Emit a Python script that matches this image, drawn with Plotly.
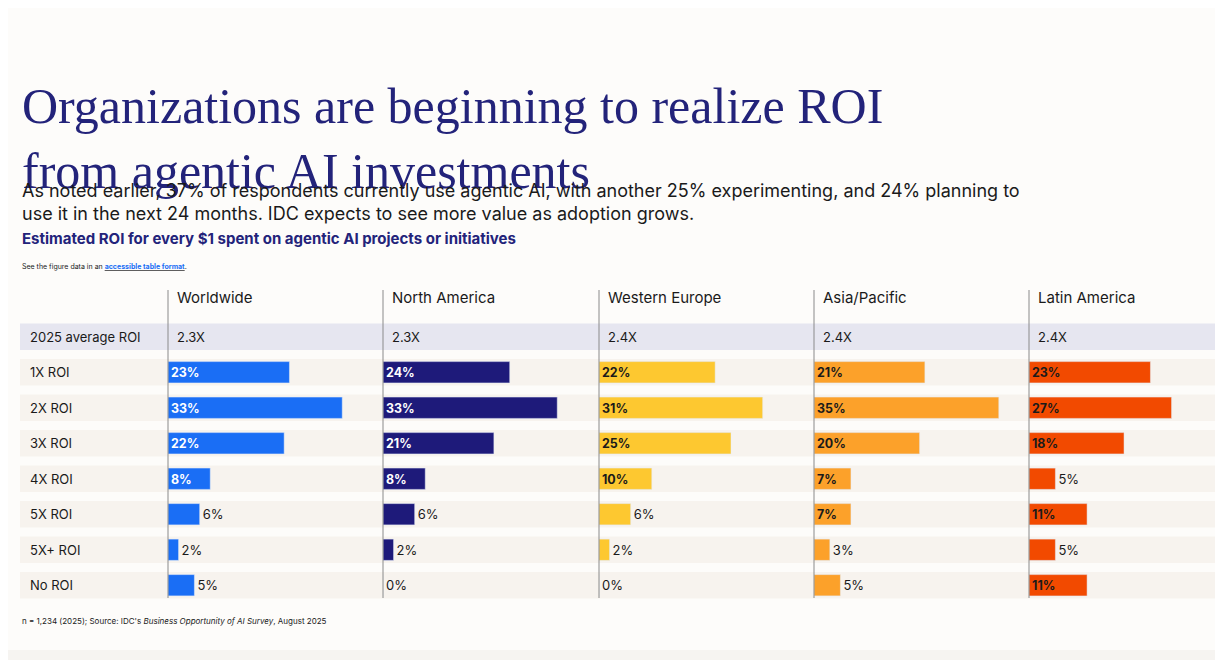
import plotly.graph_objects as go

regions = ["Worldwide", "North America", "Western Europe", "Asia/Pacific", "Latin America"]
avg_roi = ["2.3X", "2.3X", "2.4X", "2.4X", "2.4X"]
rows = ["1X ROI", "2X ROI", "3X ROI", "4X ROI", "5X ROI", "5X+ ROI", "No ROI"]
worldwide = [23, 33, 22, 8, 6, 2, 5]
north_america = [24, 33, 21, 8, 6, 2, 0]
western_europe = [22, 31, 25, 10, 6, 2, 0]
asia_pacific = [21, 35, 20, 7, 7, 3, 5]
latin_america = [23, 27, 18, 5, 11, 5, 11]
series = [worldwide, north_america, western_europe, asia_pacific, latin_america]

colors = ["#1a6ef5", "#1e1a7a", "#fdc830", "#fca12a", "#f24a00"]
inside_font = ["white", "white", "#1a1a1a", "#1a1a1a", "#1a1a1a"]

W, H = 1223, 660
col_left = [160, 375, 591, 806, 1021]
col_w = 200
px_per_pct = 5.28
y_top, y_bot = 311, 595

def px(x):
    return x / W

def py(y):
    return 1 - y / H

fig = go.Figure()
shapes = []
annotations = []

# row bands
for i in range(8):
    shapes.append(dict(type="rect", xref="paper", yref="y", x0=px(12), x1=px(1213),
                       y0=i - 0.37, y1=i + 0.37, line_width=0,
                       fillcolor="#e6e6f0" if i == 0 else "#f7f3ee", layer="below"))

for k, (name, vals) in enumerate(zip(regions, series)):
    ax = "" if k == 0 else str(k + 1)
    pos = ["inside" if v >= 7 else "outside" for v in vals]
    fig.add_trace(go.Bar(
        x=vals, y=list(range(1, 8)), orientation="h", marker_color=colors[k],
        width=0.6, text=[f"{v}%" for v in vals], textposition=pos,
        insidetextanchor="start", cliponaxis=False,
        insidetextfont=dict(color=inside_font[k], size=13, family="Inter", weight="bold"),
        outsidetextfont=dict(color="#1a1a1a", size=13, family="Inter"),
        xaxis="x" + ax, yaxis="y", showlegend=False, hoverinfo="x+y"))
    fig.layout["xaxis" + ax] = dict(domain=[px(col_left[k]), px(col_left[k] + col_w)],
                                   range=[0, col_w / px_per_pct], visible=False, fixedrange=True)
    shapes.append(dict(type="line", xref="paper", yref="paper", x0=px(col_left[k]), x1=px(col_left[k]),
                       y0=py(282), y1=py(590), line=dict(color="#8a8a8a", width=1)))
    annotations.append(dict(x=px(col_left[k] + 7), y=py(289), xref="paper", yref="paper", text=name,
                            showarrow=False, xanchor="left", font=dict(size=15, color="#1a1a1a")))
    annotations.append(dict(x=px(col_left[k] + 7), y=0, xref="paper", yref="y", text=avg_roi[k],
                            showarrow=False, xanchor="left", font=dict(size=13, color="#1a1a1a")))

for i, lab in enumerate(["2025 average ROI"] + rows):
    annotations.append(dict(x=px(20), y=i, xref="paper", yref="y", text=lab, showarrow=False,
                            xanchor="left", font=dict(size=13, color="#1a1a1a")))

annotations += [
    dict(x=px(12), y=py(68), xref="paper", yref="paper", xanchor="left", showarrow=False, align="left",
         text="Organizations are beginning to realize ROI<br>from agentic AI investments",
         font=dict(family="Liberation Serif", size=50, color="#23237a")),
    dict(x=px(12), y=py(170), xref="paper", yref="paper", xanchor="left", showarrow=False, align="left",
         text="As noted earlier, 37% of respondents currently use agentic AI, with another 25% experimenting, and 24% planning to<br>use it in the next 24 months. IDC expects to see more value as adoption grows.",
         font=dict(size=18, color="#1a1a1a")),
    dict(x=px(12), y=py(231), xref="paper", yref="paper", xanchor="left", showarrow=False,
         text="<b>Estimated ROI for every $1 spent on agentic AI projects or initiatives</b>",
         font=dict(size=15, color="#23237a")),
    dict(x=px(12), y=py(259), xref="paper", yref="paper", xanchor="left", showarrow=False,
         text="See the figure data in an <b><u><span style='color:#1a6ef5'>accessible table format</span></u></b>.",
         font=dict(size=7, color="#1a1a1a")),
    dict(x=px(12), y=py(620), xref="paper", yref="paper", xanchor="left", showarrow=False,
         text="n = 1,234 (2025); Source: IDC's <i>Business Opportunity of AI Survey</i>, August 2025",
         font=dict(size=8, color="#1a1a1a")),
]

shapes.append(dict(type="rect", xref="paper", yref="paper", x0=0, x1=1, y0=0, y1=py(642),
                   line_width=0, fillcolor="#f6f4f1", layer="below"))

fig.update_layout(
    width=W, height=H, margin=dict(l=0, r=0, t=0, b=0),
    paper_bgcolor="#fdfcfa", plot_bgcolor="rgba(0,0,0,0)",
    font=dict(family="Inter", color="#1a1a1a"),
    yaxis=dict(domain=[py(y_bot), py(y_top)], range=[7.5, -0.5], visible=False, fixedrange=True),
    shapes=shapes, annotations=annotations, bargap=0.4,
)

fig.write_html("out.html")
